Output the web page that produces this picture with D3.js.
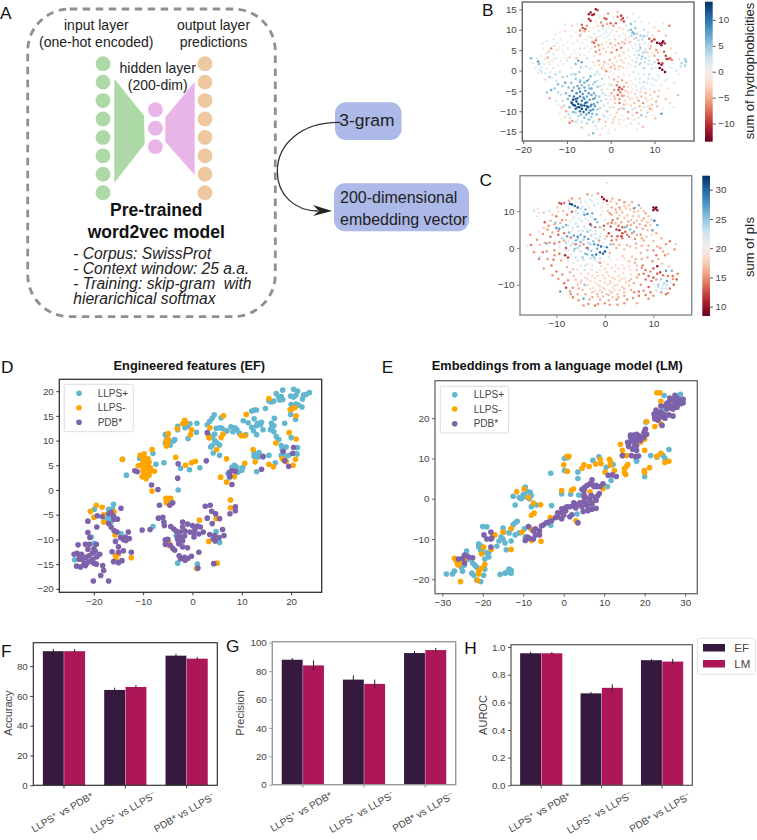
<!DOCTYPE html>
<html><head><meta charset="utf-8">
<script src="https://cdn.jsdelivr.net/npm/d3@7/dist/d3.min.js"></script>
<style>html,body{margin:0;padding:0;background:#fff}svg{display:block}text{font-family:"Liberation Sans",Arial,sans-serif}</style>
</head><body><svg id="fig" width="757" height="840"></svg>
<script>
// ---------- Panel A text ----------
const nodesIn=[1,2,3,4,5,6,7,8], nodesHidden=[1,2,3], nodesOut=[1,2,3,4,5,6,7,8];
const trainingNotes=["- Corpus: SwissProt","- Context window: 25 a.a.","- Training: skip-gram  with","hierarichical softmax"];
// ---------- Panel B: t-SNE x, y, sum of hydrophobicities (subsample) ----------
const hydroCore=[[-8.6,-7.2,13],[-8.9,-8,12],[-8.2,-8.6,13],[-7.8,-7.6,12],[-7.4,-8.2,11],[-8.4,-6.4,10],[-7.2,-9,12],[-6.6,-9.4,13],[-6,-8.6,12],[-5.6,-9.6,12],[-5.2,-9,11],[-6.2,-10.2,11],[-7,-10,10],[-5,-10.4,9],[-4.4,-8.4,9],[-4,-9.6,8],[-3.6,-8.8,7],[-6.6,-7.4,9],[-6,-7,8],[-5.4,-7.8,9],[-4.8,-7.2,8],[-7.8,-5.6,9],[-7,-5.2,9],[-6.4,-5.8,8],[-5.8,-5,7],[-5,-5.6,8],[-4.4,-4.4,7],[-3.8,-5.6,6],[-8.8,-5,8],[-9.6,-4.2,6],[-10.4,-3,7],[-9,-3,6],[-7.6,-3.8,7],[-6.6,-3.6,6],[-5.4,-2.6,7],[-4.6,-1.4,6],[-3.6,-2.8,5],[-3,-4,5],[-2.6,-6.4,5],[-3,-7.8,6],[-2.4,-9.2,4],[-3.2,-10.8,6],[-4.4,-11.4,5],[-6,-11.6,6],[-7.4,-11.2,4],[-8.6,-10.2,6],[-9.4,-9,7],[-9.8,-7,6],[-10.2,-5.6,6],[-9.4,-6.2,7],[-8,-9.4,11],[-7.6,-6.8,10],[-6.8,-8.4,10],[-5.8,-8,11],[-4.6,-9.8,9],[-7.2,-4.4,8],[-6,-4.2,7],[-5,-3.6,5],[-4,-7,7],[-3.4,-6.2,5],[-2,-4.8,3],[-2,-2,4],[-3.6,-1,3],[-6.2,-1.8,4],[-8,-2,5],[-11,-1.6,4],[-12,-3.4,6],[-10.6,-8.6,4],[-11.4,-6,3],[-8,-12.6,3],[-5.4,-13,4],[-3.4,-13.6,3],[-4,-15.4,6],[-5,-15.8,3],[-11.6,-10.6,2],[-9.2,-11.6,3],[-1.4,-11.2,3],[-0.6,-8,2],[-1.2,-6,3],[-0.4,-3.4,2]];
const hydroLeft=[[-18.2,3,6],[-17.8,1.8,1],[-16.6,2.2,8],[-16.4,1.6,6],[-15.8,0.8,2],[-15.2,1.6,1],[-15.8,-0.4,3],[-15,-0.6,2],[-14.6,0.4,1],[-14,1.4,-1],[-13.8,-0.4,2],[-13.2,0.6,2],[-13.4,2.2,-2],[-14.4,3.2,-5],[-14.2,4.6,-4],[-13.6,5.4,-6],[-14.8,4.2,-1],[-13,4,2],[-12.4,3,1],[-12,1.2,1],[-11.6,-0.4,3],[-12.6,-1,4],[-14,-1.6,5],[-15,-2.2,-3],[-16.6,-0.6,1],[-17.4,0.4,0],[-13.6,-4.8,7],[-14,-6.8,-5],[-12.4,-2.6,3],[-10.8,1.6,0],[-10,2.4,2],[-9.4,3.2,-3],[-10.6,4,1],[-11.8,5.6,-1],[-12.4,6.8,1],[-9,0.6,2],[-8,1.6,6],[-7.4,2.4,7],[-6.6,2,7],[-7.8,3,-4],[-8.4,-0.8,3],[-7.2,-0.4,5]];
const hydroTopRed=[[-4.6,14.2,-12],[-4.2,13.6,-12],[-5,13.8,-11],[-3.8,13.8,-11],[-3.4,15,-12],[-3,14.8,-9],[-5,12.6,-10],[-4.6,12.2,-11],[-0.6,14,-6],[1.6,14.4,-4],[1.6,13.2,-7],[2.4,13.4,-10],[2.8,12.8,-10],[-1,12.6,-9],[-1.4,12.8,-8],[0,11.6,-8],[-0.8,11.4,-5],[-2.2,11.8,-6],[-1.8,11,-7],[-3,11,-3],[0.6,11,-6],[1.2,11.6,-8],[3,12,-9],[2.4,12.4,-7],[-6.6,11.2,-8],[-6.4,10.4,-9],[-7,9.8,-7],[-6,9.6,-5],[-5.4,11,-6],[-5.8,10.2,-9],[-7,8.6,-5],[-10.4,9.6,-3],[-12.6,8.8,-1],[-14.6,7.2,1],[-10.4,11.2,2],[-3.4,12,-2],[3.8,13,2],[5,14,-2],[6.4,13,1],[7,12,-1],[8.8,11.6,-2],[10,10.6,-3],[11,9.6,-5],[13.4,11,-7],[12,11.6,1]];
const hydroRightRed=[[10.6,6.8,-13],[11.2,6.6,-13],[11.8,6.8,-13],[12,7.2,-12],[11.6,6.2,-12],[10,7.6,-10],[9.4,7.2,-9],[8.8,7.8,-8],[12.4,6.6,-10],[11,1.8,-13],[11.6,1.4,-12],[11.2,0.6,-13],[11.8,0.2,-13],[12.4,-0.4,-13],[12.8,2.8,-10],[13.2,2.8,-9],[13.6,3,-8],[14,2.6,-7],[12.6,3.6,-9],[12.2,4.6,-8],[11.8,1.8,-9],[10.8,2.6,-7],[10,3.6,-5],[10.4,5,-6],[9,5.4,-5],[8.4,4.4,-3],[15.6,2.8,2],[16.2,1.8,4],[17,2.8,5],[17.2,2.2,6],[17,1.2,5],[16,1,3],[15.6,-1,1],[14,0.6,1],[14.6,-3,2],[15.4,-6,4],[14.4,-9,1],[11.6,-10.6,8],[13,-4.4,-2],[12.4,-2.4,2],[12.6,-7,-4]];
const hydroCenter=[[-2,10.2,1],[-1.2,9.8,1],[-0.6,10.4,1],[-1.6,9,1],[-0.8,8.4,1],[0,9.4,1],[-3.8,9,2],[-5,8.4,2],[-3.4,7.4,-7],[-3.8,6.8,-8],[-4.2,7,-6],[-2.8,6.2,-6],[-3.6,5.8,-5],[-2,6.4,-3],[-1,7,-2],[0,6.6,-5],[1,7.6,-3],[2,8.4,-2],[3,9,1],[4,9.8,3],[4.6,10,6],[5,9.4,7],[5.6,10.4,5],[6,9,4],[6.8,8.6,5],[7.6,8.4,5],[8.4,8.6,3],[5.4,7.8,-3],[4.4,7,-4],[3.2,6.6,-5],[2.4,5.6,-7],[1.4,5,-7],[0.2,4.4,-6],[-1,4.6,-3],[-2.4,4,-4],[-3.8,3.6,-2],[-5,4.6,1],[-6,5.4,2],[-5.4,3,3],[-4,2,-2],[-2.8,2.4,-5],[-1.4,2,-4],[-0.2,2.6,-5],[1,3.2,-3],[2,3.6,-4],[3,4.4,-3],[4,5,-2],[5.2,5.4,1],[6,4.8,3],[6.8,5.6,5],[7.4,4.4,4],[8,3,4],[7,2.8,3],[6,3,2],[5,2.4,2],[4,1.6,-2],[3,2,-3],[2,1,-4],[1,0.4,-4],[0,0.8,-5],[-1,-0.2,-6],[-2,0.6,-4],[-3,-0.4,3],[5.6,1,3],[6.6,1.4,3],[7.6,0.6,4],[8.6,1.6,3],[9.4,0.4,3],[8.8,-1,3],[7.6,-1,2],[6.4,-0.8,1],[5.2,-0.4,2],[4.2,-1.2,-1],[3,-1,-2],[1.8,-1.6,-3],[0.8,-2.2,-5]];
const hydroLower=[[1.4,-3.6,-7],[2,-4.2,-10],[1.8,-4.8,-9],[2.6,-4.6,-8],[0.8,-4.8,-6],[0.2,-5.6,-5],[1.6,-6,-8],[2.6,-6.2,-6],[3.4,-5,-4],[4,-4,-2],[5,-3.4,1],[5.8,-3.8,2],[6.6,-3,2],[7.4,-4,1],[8.4,-3,2],[9.4,-3.4,1],[10.4,-2.4,2],[4.6,-5.4,-2],[5.6,-5.8,-3],[6.8,-5.2,-3],[8,-5.6,-4],[9,-6,-3],[10,-5.2,-5],[11,-5,-3],[3.2,-7.4,-3],[4.4,-7,-2],[5.4,-8,-4],[6.4,-7.4,-5],[7.4,-8,-6],[8.4,-7.4,-2],[9.4,-8.4,-4],[10.4,-7.6,-5],[2,-8,-7],[1,-7,-4],[0,-7.2,-2],[0.6,-9,-3],[1.8,-9.6,-4],[3,-9.4,5],[4,-10.2,-6],[5,-9.6,3],[6,-10.4,-6],[7,-9.8,-3],[8.4,-10.4,4],[9,-9.4,-6],[-0.8,-10,-5],[0,-11,-2],[1,-11.4,-3],[2.6,-11,1],[4,-11.8,-4],[5.4,-12,2],[7,-11,5],[-2.6,-12,-6],[-1.2,-12.6,-4],[0.4,-12.8,-3],[2,-13,-2],[3.6,-13.6,1],[6.4,-13,-2],[7.4,-13.8,-4],[-2,-14.2,1],[-0.4,-14.6,1],[1,-14.6,-1],[-6.6,-14,-4],[-7.4,-13,1],[-8.8,-12.4,-6],[-9.4,-12.8,-7],[-10.2,-10,-5],[-11.2,-9,-4],[-12.6,-7.4,2],[-14.6,-5.4,5],[-2.4,-15.8,-2]];
const hydroUpperMix=[[-2.6,9.6,1],[-1.8,10.4,1],[-1,9.4,1.5],[-0.2,8.8,1],[0.4,10,1],[-2.4,8.4,1.5],[-3,9.8,.5],[-1.4,8,1],[-0.4,7.6,.5],[0.8,8.6,-1],[1.4,9.6,-2],[2,10.4,-3],[2.8,10.2,-2],[3.4,8.4,-1],[4.2,8.2,2],[4.8,8.6,4],[5.4,9,6],[5.8,8,4],[6.4,7.4,3],[7.2,7.6,3],[7.8,6.8,2],[8.6,6.4,-1],[9.2,6,-4],[8,5.2,2],[6.6,6.4,3],[5.6,6.4,2],[4.8,6,1],[4.2,6.8,-2],[3.4,7.6,-3],[2.6,7,-4],[1.8,6.6,-5],[1,6.2,-4],[0.4,5.6,-3],[-0.6,5.8,-2],[-1.6,5.4,-3],[-2.6,5,-5],[-3.4,4.6,-6],[-4.4,5.4,-2],[-5.4,6,1],[-6.6,6.8,1],[-7.6,7.4,-1],[-8.6,6.6,1],[-9.8,7,1],[-10.8,6.2,1],[-11.4,7.6,-1],[-9,8.4,1],[-8,9.4,-1],[-6.6,9,1],[-5,9.6,-2],[-4,10.4,-1],[-3.2,8,-3],[-4.4,8,-2],[-5.6,7.6,1],[-7,5.4,2],[-8.4,5,1],[-9.8,5.4,1],[-11,4.6,-1],[-12.2,5,-2],[-13,6,-3],[-15.4,5.4,-1],[-16,3.6,1],[-16.8,3,2],[-17,1,1],[-16.2,0.2,2],[-15,2.8,1],[-14.2,2,-1],[-13,2.8,1],[-11.4,2.4,1],[-10.2,3,1],[-9,4,1],[-8,4.2,-1],[-7,3.8,2],[-6,3.8,1],[-6.8,0.8,4],[-5.6,1,3],[-4.6,0.4,2],[-3.6,1.2,-1],[-2.6,1.4,-3],[-1.6,1.2,-3],[-0.6,1.6,-3],[0.4,1.8,-2],[1.4,2.2,-2],[2.4,2.6,-3],[3.4,3,-2],[4.4,3.4,1],[5.4,3.8,2],[6.4,3.8,4],[7.2,3.4,5],[8.8,2.4,3],[9.4,1.4,2],[10.2,0.8,1],[10,2,3],[7.8,2,3],[6.8,1.8,4],[5.8,2,3],[4.8,1.2,1],[3.8,0.6,-1],[2.8,0.8,-2],[1.8,0.2,-2],[0.8,1.2,-4],[-0.2,-0.4,-2],[-1.4,0.2,-3],[10.8,4.4,-4],[9.6,4.4,-2],[8.8,3.4,1],[7.8,4.6,3],[6.6,5,3],[12,1.4,-3],[13.4,1,1],[14.4,1.8,1],[15,0,2],[13,-0.4,1],[12.6,8.6,-4],[13.8,5.4,-3],[14.8,4.2,-2],[3.6,11,2],[4.6,11.4,6],[5.6,12,3],[7.6,10,3],[8.6,9.4,2],[9.6,8.6,-3],[-8.8,11,-3],[-7.6,11.4,1],[-11.6,9.4,1],[-13,7.6,2],[-15.6,6.6,-2],[-1.4,13.6,1],[0.6,13,2],[-2.6,13,1]];
const hydroLowerMix=[[-1.4,-1.2,-1],[-0.4,-1.6,-2],[0.6,-0.8,-2],[1.6,-2.8,-4],[2.6,-2.4,-5],[3.6,-3,-4],[4.6,-2.6,-1],[5.6,-2,1],[6.6,-2,2],[7.6,-2.8,3],[8.6,-2,3],[9.6,-2,2],[10.8,-1.2,2],[11.6,-3.6,1],[3,-4,-6],[0.2,-3.6,-3],[-0.8,-4.6,1],[-1.6,-3.4,2],[-1.8,-5.6,3],[-1,-7,3],[-0.2,-6.2,-2],[0.8,-6.4,-4],[2.2,-5.4,-7],[3,-6.2,-5],[4,-5.4,-3],[5,-4.6,-1],[6,-4.8,1],[7,-4.4,2],[8,-4.4,2],[9,-4.6,1],[10,-3.8,1],[10.8,-6.4,-4],[9.4,-7,-3],[8,-6.8,-3],[7,-6.4,-4],[6,-6.6,-3],[5,-6.8,-2],[4,-6.4,-3],[3,-8.4,-4],[2,-7,-6],[1,-8,-4],[-0.2,-9,2],[1.4,-10.4,-3],[2.4,-9.2,-3],[3.6,-8.2,-2],[4.6,-8.6,-3],[5.6,-9.2,3],[6.6,-8.8,-4],[7.6,-9,2],[8.6,-8.8,-3],[9.6,-9.6,-2],[10.6,-8.8,-4],[-2.2,-7.4,4],[-1.6,-8.6,3],[-1,-10,3],[-1.8,-10.8,2],[-0.6,-11.8,1],[-2.8,-12.6,2],[-4,-12.6,4],[-5,-12,6],[-6.6,-12.6,3],[-7.6,-12.2,2],[-3,-14.4,1],[-1.2,-13.6,-2],[0.6,-12,-3],[2,-12,-2],[3,-12.2,1],[5,-11,-3],[6.4,-11.6,-2],[8,-11.4,-3],[9.8,-11,1],[4.6,-13,-2],[-9.6,-10.8,3],[-10.4,-11.4,-3],[-11,-7.4,3],[-12,-5.4,4],[-12.8,-4.4,5],[-13.4,-1.8,1],[-11,-3.8,5],[-10,-1.4,4],[-9,-1,4],[-8,-1,5],[-7,-2.4,5],[-6,-3,6],[-5,-2.2,5],[-4,-3.4,4],[-3,-2.6,3],[-2.4,-3.8,3],[-2.6,-1,2],[-6.2,-6.6,8],[-7,-6.4,9],[-8,-7,11],[-8.6,-8.4,12],[-7.6,-9,11],[-6.6,-8.6,11],[-5.4,-8.8,10],[-4.6,-8.8,8],[-3.8,-8.2,7],[-5.4,-6.4,7],[-4.4,-6,7],[-3.6,-6.8,6],[-3,-9.6,5],[-4.2,-10.6,6],[-5.6,-10.8,7],[-6.8,-10.8,6],[-8,-10.4,5],[-9,-7.8,8],[-8.4,-4.2,6],[-7,-2.8,6],[-4.8,-4.4,6],[-11.2,-12,1],[-12,-8.4,1],[13.6,-8,-2],[12,-9.4,1],[13,-2,-1],[11,-1.8,1],[10.2,-11.8,-4],[6,-14.4,1],[-0.6,-15.4,2]];
// ---------- Panel C: t-SNE x, y, sum of pIs (subsample) ----------
const piBlue=[[-7.2,12,31],[-6.8,11.8,32],[-6.2,11.4,30],[-5.6,11,30],[-4,10.4,26],[-3.6,9.2,28],[-4.2,9,27],[-2.6,9.4,26],[-10.2,6.8,25],[-10,5.4,28],[-9.4,5.2,27],[-8.6,5.6,25],[-8,6.2,26],[-7.4,4.2,26],[-7.8,3.2,27],[-6.4,3.4,27],[-5.6,3,28],[-5,3.6,26],[-4.2,3,27],[-3.4,2.4,27],[-6,2,26],[-5,1.6,26],[-3.6,4.4,25],[-2.8,6,26],[-2,7.8,27],[-1.6,7,25],[-1,5.6,25],[-2.2,1,27],[-1.4,0.8,28],[-0.8,0.4,30],[0,-1,31],[-1,-1.2,30],[-0.4,-1.6,30],[-1.8,-1.8,29],[-2.6,-2,27],[0.4,0.2,28],[1.2,1,25],[-3.4,-0.4,25],[-4,-1.6,26],[-4.6,-2.6,25],[-5.6,0,24],[-6.4,-0.8,24],[-7,0.6,23],[-8,1.4,24],[-8.8,2.6,24],[-12,1.2,26],[10.2,7.4,29],[10.8,6.2,27],[9.8,4.8,27],[6,4.4,26],[5.2,5,26],[4.2,5.6,26],[7,11.6,26],[6,10.8,27],[-9.2,-11.8,27],[-4.4,-13.8,27],[-4.2,-10,25],[12.8,-9,27],[12.6,-6.2,27],[13.8,-6.2,26],[11,-10,25],[11.6,-8.4,24],[12.2,-9.6,24]];
const piPaleBlue=[[-4.4,9.6,23],[-3.2,11,22],[-2.2,11.6,23],[-1.4,12,22],[-0.6,11,22],[-3,13,23],[-2.6,14.2,23],[-4,12.6,22],[-5,12.4,23],[-5.6,9.4,23],[-6.4,8.4,22],[-7.2,7.2,22],[-6,6.6,23],[-4.8,7.4,23],[-3.4,7.6,22],[-2.6,8.4,22],[-0.8,9,22],[0,7.6,22],[-4.2,5.8,23],[-5.4,4.6,22],[-3,4.8,23],[-2,3.8,23],[-1,3,23],[0,2.4,23],[-3,1,24],[-4,0,23],[-5,-1,23],[-3,-2.8,23],[-2,-3.2,23],[-1,-2.8,23],[0.8,-2.4,22],[-6,-2.6,23],[-7,-1.8,22],[-8.2,-0.6,22],[-9.4,0.4,22],[-10.4,2,22],[-3.6,-4.4,22],[-5,-4.8,22],[-6.6,-4,22],[-4.2,-6,23],[-2.6,-6,22],[-0.8,-5,22],[11,-10.6,23],[11.8,-11,23],[10.6,-11.6,23],[12.6,-11,23],[11.8,-12.4,22],[-13.8,10.6,22],[-14.6,10,23],[-11.4,10,23],[-14,8.6,22],[-16,0.6,22],[-13.4,-2.4,23],[0.4,17.6,22]];
const piPale=[[-4,-8,18],[-3,-9,18],[-2,-8.2,18],[-1,-9,18],[0,-8.2,18],[1,-9,18],[2,-8.4,18],[3,-9,18],[4,-8.2,18],[5,-9,17],[-3.4,-10,18],[-2.4,-10.8,18],[-1.4,-10,18],[-0.4,-10.8,18],[0.6,-10,18],[1.6,-10.8,18],[2.6,-10,18],[3.6,-10.6,17],[-2.6,-12,17],[-1.6,-12.6,17],[-0.6,-12,17],[0.4,-12.6,17],[1.4,-12,17],[2.6,-12.6,17],[4,-12,17],[5.4,-11.4,16],[-4.6,-11.4,17],[-5.6,-10,17],[-6,-8.6,17],[-5,-7,18],[-3.4,-7,18],[-1.6,-6.6,18],[0.4,-6.6,18],[2,-6.4,18],[3.8,-6.8,18],[5.4,-7.2,18],[6.6,-8,16],[6.6,-6,17],[-1,-14,16],[0.8,-14.2,16],[2.4,-14,15],[-3.2,-14,16],[4.6,-14,15],[-4.4,-15.6,15],[-2,-15.6,14],[1,-15.4,15],[-0.4,-13.2,17],[1.6,-13.4,17],[2.2,-4.8,18],[0.6,-4.4,18],[3.6,-4.6,18],[5,-5,18],[6.2,-4,16],[7.8,-4.8,14],[8.4,-6,14],[9,-7.6,13],[10,-5.6,13],[10.8,-5,10],[11.4,-6.6,12],[9.6,-9,14],[8.4,-8.6,14],[7.4,-10,15],[8,-11.6,15],[9.4,-12,14],[10,-13,15],[7,-13,14],[5.8,-13.6,15],[12.6,-12.6,14],[13.4,-11,14],[14.2,-10,13],[14.8,-8.6,13],[14,-7.6,14],[15,-7,14],[13.2,-5,17],[-5.6,-12.6,16],[-6.6,-10.8,15],[-7.6,-8.8,15],[-8.8,-7.2,15],[-10,-6.4,14],[-11,-4.8,14],[-12.6,-5.6,15],[-13.6,-3,14],[-14.6,-1.2,15],[-15.2,0.8,14],[-14,2.2,15],[-15.4,3.6,15],[-8,-10.8,12],[-6.6,-13.4,14]];
const piWarm=[[-9.4,12.2,13],[-9,12,12],[-8.4,12.2,14],[-0.6,13.8,11],[-0.2,13.2,9],[0.4,12.8,10],[-1.4,14.8,15],[1.6,13.4,16],[3,13,15],[-3.6,14.6,15],[-5.2,13.4,16],[-6.8,13.4,15],[10,11,9],[10.4,10.6,9],[10.6,11,8],[10,10.2,10],[10.8,10.2,10],[4.4,10.8,17],[5.2,10.4,17],[6,9.8,17],[6.8,10,17],[3.6,9.6,17],[4.6,8.8,17],[5.8,8.6,17],[7,8.6,17],[8,8,16],[8.4,9.4,16],[3,11,15],[1.4,11,16],[1,9.4,15],[1.6,7.6,14],[2.6,8,15],[3.4,7,16],[4.8,7.2,16],[6,6.8,16],[7.2,6.4,16],[8.4,6,15],[9.4,6.2,17],[1.2,5.8,13],[2.4,5,12],[3,4.8,11],[3.6,4,12],[4.2,4.4,13],[2.6,3.2,13],[3.6,2.6,14],[5,3,14],[6.2,2.4,15],[7.4,3.6,15],[8,2,16],[9,0.6,16],[10,-0.6,15],[11.4,0,15],[12.4,-2,15],[11,-3,16],[13.4,1.8,14],[1.4,2,14],[0.8,4,12],[-0.2,6,13],[-1.2,2,15],[-2,5.6,14],[-3,6.4,11],[-4.4,1,15],[-6,1,14],[-7,2.8,14],[-8,0,13],[-8.2,-2,11],[-7.6,-2.6,12],[-9.4,-1.6,14],[-10.4,-0.6,15],[-11.2,3,14],[-9.6,3.6,13],[-8.8,7.6,15],[-10,8.6,14],[-11.2,7.4,16],[-12.4,7,13],[-11.8,5,15],[-12.8,3.8,15],[-6.8,9.8,13],[-7.8,9,15],[-3.6,0,12],[-1,-4,15],[4.6,0.8,16],[2.4,0,16],[6.4,0,17],[1,-1.4,16],[3.6,-2.2,17],[5.6,-2.4,17],[7.4,-1.4,16],[-12,-1,15],[-10.6,-3.2,14]];
const piUpperMix=[[-6,10,23],[-5,10.6,23],[-4.6,11.2,22],[-3.6,11.8,21],[-2.6,12.6,22],[-1.6,13,21],[-0.4,12.2,20],[0.6,11.8,18],[-7.4,10.6,22],[-8.6,10,17],[-9.6,9.8,18],[-10.8,9,17],[-12.6,9.6,17],[-13.6,9.4,19],[-14.6,10.6,20],[-3,8.6,22],[-4,8,22],[-5.4,8,22],[-6.8,7.8,21],[-8,7.6,17],[-9.2,6.8,16],[-10.4,6.4,16],[-11.6,6,15],[-12.6,5.4,17],[-13.6,4.4,18],[-7.6,6,23],[-6.6,5.4,23],[-5.6,5.8,24],[-4.6,4.6,23],[-3.8,5.2,22],[-2.8,3.4,24],[-1.8,4.6,22],[-0.8,4.2,20],[-0.2,5,16],[0.6,6.6,15],[1.4,6.8,14],[2.2,6.6,16],[2.8,6,14],[3.6,5.6,13],[4.6,6,15],[5.4,6.2,16],[6.6,5.6,16],[7.8,5.2,16],[8.8,4.8,17],[9.6,3.6,18],[8.6,3,17],[7.6,2.6,16],[6.6,3.6,16],[5.6,4,15],[4.6,3.6,14],[3.4,3.2,12],[2.4,2.2,15],[1.4,3.2,14],[0.4,3.2,16],[-0.4,1.4,20],[-1.8,2.6,23],[-2.4,1.8,25],[-3.4,1.4,24],[-4.4,2.2,24],[-5.6,2.4,24],[-6.6,1.2,24],[-7.4,1.8,22],[-8.4,2,16],[-9.4,1.6,15],[-10.4,1.2,14],[-11.4,1.4,15],[-12.4,1.4,16],[-13.4,0.8,17],[-10.8,4.2,16],[-9.6,4.6,15],[-8.4,4,14],[-6.8,4.6,21],[1.4,9,16],[2.4,9.6,16],[3.2,10.4,17],[4,11.4,17],[5,11.6,17],[6.2,11,17],[7.4,10.8,17],[8,10,17],[9,8.6,17],[9.6,7.6,17],[8.8,7,17],[7.6,7.4,17],[6.6,7.4,17],[5.4,7.6,17],[4,8.2,17],[3,8.8,17],[2.2,10.4,16],[0.6,10,17],[-0.6,10,21],[0,13.8,19],[1.2,12.6,17],[2.4,12,16],[4,12.4,15],[5.6,12.4,16],[-7.4,12.8,16],[-6,12.6,20],[-9.8,11,17],[10.6,4,16],[11.6,2.6,16],[12.6,1,15],[10,1.8,17],[10.8,0.4,16],[12,-1,16],[13,-1.6,17],[14.4,-0.4,15],[14.6,1,17],[-0.2,0.4,22],[0.8,-0.4,20],[1.8,1,16],[3,0.8,16],[4,-0.4,17],[5.2,0.4,17],[6.4,1.2,16],[7.6,0.6,16],[8.8,-0.6,16],[-5.2,0.6,25],[-6.2,-0.2,25],[-7.4,-0.6,22],[-2.8,-0.8,25],[-1.6,-0.2,26]];
const piLowerMix=[[-5.6,-3.4,22],[-4.4,-3.2,23],[-3.6,-1.8,25],[-2.2,-2.6,25],[-1.4,-3.8,22],[-0.2,-3.8,21],[1.2,-3.4,20],[2.6,-3.2,19],[4,-2.8,18],[5,-3.6,17],[6.4,-3,16],[7.6,-3,16],[8.8,-2.6,16],[9.8,-3.6,15],[10.6,-2,14],[11.8,-4.2,17],[-7.6,-3.4,22],[-9,-3.4,16],[-10.4,-2,15],[-7.8,-5.2,16],[-6.6,-5.8,17],[-5.6,-6,18],[-4.8,-8.8,18],[-3.6,-8.6,18],[-2.6,-7.6,18],[-1.4,-7.6,18],[-0.4,-7.4,18],[0.8,-7.6,18],[1.6,-8,18],[2.8,-7.6,18],[3.4,-8.4,18],[4.4,-9.4,18],[5.4,-8.4,17],[6,-9.6,16],[-3,-11.2,18],[-2,-9.4,18],[-1,-10.4,18],[0,-9.4,18],[1.2,-9.6,18],[2,-10.2,18],[3,-11.4,18],[4,-11,17],[5,-10.2,17],[-4,-10.2,18],[-5,-9.4,17],[-6.4,-7.6,17],[-7.2,-6.6,16],[-2,-11.6,18],[-1,-11.4,18],[0,-11.2,18],[1,-11.6,18],[2,-11.4,18],[0.8,-12.8,17],[-1.4,-13.2,17],[-2.6,-13.4,16],[2.8,-13.4,16],[4,-13,16],[-4,-12.6,16],[-5.4,-11,16],[-7.2,-11.8,15],[-8.4,-9.6,14],[-9.6,-8.4,15],[-10.8,-7.4,15],[-11.8,-3,15],[-12.8,-1.2,14],[6,-12,15],[7,-11.8,14],[8.4,-12.8,14],[9,-10.6,13],[10,-10,21],[10.6,-8.6,15],[10,-8,13],[11.4,-9,22],[12,-10.2,22],[12.8,-10,23],[13.6,-9.4,22],[14,-8.4,15],[13,-7.6,14],[12,-7.4,14],[10.8,-7,13],[9.4,-6.4,15],[8,-7,14],[7,-7.2,15],[7.6,-5.4,15],[6.6,-4.8,17],[5.2,-6,18],[4,-5.6,18],[2.8,-5.6,18],[1.4,-5.4,18],[0,-5.6,18],[-1,-6,19],[-2.6,-4.8,21],[-4,-4.8,22],[-3,-5.8,20],[11.6,-12,15],[13,-12.2,15],[9,-13.8,15],[4,-15,15],[2.6,-15.4,15],[0,-15,15],[-1.4,-15.2,15],[-3.4,-15.2,15],[-5.4,-14.2,15],[-7,-12.6,15],[6.6,-15,16]];
// ---------- Panel D ----------
const efPos=[[23.7,19.7],[23,19.3],[22.5,19.2],[21.3,20],[20.5,20.4],[21,19.2],[19.9,19],[20.5,18.8],[18.3,20.2],[17,19.5],[17.5,18.8],[18,18.9],[18.3,18.3],[17.7,18.2],[16.5,18],[16,17.8],[15.5,18],[22.3,18.4],[20,17.3],[21,17.4],[21.5,17.2],[22.2,16.8],[14.8,16.5],[12.5,16.2],[13,16.2],[12,16],[19.9,15.3],[20.9,14.3],[16.6,14.5],[12.5,14.4],[13.2,13.5],[14,13.7],[10.3,14],[11.3,13.6],[12,12.7],[13,13],[13.8,13.2],[16,13.5],[16.5,13],[16,12.5],[15.8,12.2],[16.5,11.8],[18.7,13.5],[14.3,12.2],[12.4,12],[13,11.2],[10.8,11.2],[8.6,12.6],[9,12.2],[7.8,12.8],[7,12],[6,12.5],[6.8,11.9],[8.2,11.8],[9.5,11.5],[5.5,12.6],[4.5,11.3],[3.2,11.2],[17,10.8],[17.5,10.2],[20,10.6],[18,9],[19,8.7],[21.3,8.6],[18.2,8.2],[21,7.4],[21.2,7.3],[18,7],[18.8,6.8],[19.5,7],[15.5,7],[12.5,7.5],[13.5,7.6],[12.5,6.8],[13.3,6.7],[14.3,6.7],[16.8,5.5],[8.5,5],[8,4.6],[9,4.6],[10.2,4.6],[10,4],[9.2,3.6],[7.2,3.3],[13,3.7],[7.5,2.5],[4.4,15.2],[4,14.5],[3.5,13.9],[5.8,14.6],[4.8,12.5],[4,10.8],[4.5,10],[5,9.5],[4,9],[3.7,8.7],[5.5,9.1],[4.2,7.5],[5.5,7],[3,13.2],[-0.5,13.4],[-1,12.9],[-1.5,12.6],[0.9,13.5],[-3,12.9],[-3,12.2],[-5.5,11.2],[-5.2,10.5],[-4.8,10],[-3.8,9.9],[-3.6,10.2],[-0.9,10.4],[0.8,11.7],[-5.5,9.5],[-4.5,9.1],[-10.7,6.4],[-8,7.4],[-7.4,5.2],[-5.8,5.5],[-14.2,6.2],[-13.4,3],[-2.4,4.4],[-0.6,4.1],[1.5,4.5],[-2.9,0],[-4.7,-2.6],[-16.2,-3.8],[-16,-2.9],[-17,-3.9],[-19.9,-3.9],[-17.5,-5.9],[-16.8,-5.7],[-16.5,-6.4],[-14.5,-8.8],[-20.5,-9.5],[-20,-10.8],[-8,-7.4],[-3.3,-9.2],[-3,-14.8],[1,-15],[4.8,-8.4],[5.5,-10.6],[-23.9,-14.1],[1,-15.9]];
const efNeg=[[15.5,18.5],[20.8,16.7],[19.8,16.3],[20.2,16.4],[21,15],[10.9,15.3],[6.3,15],[3.5,12.6],[-1.3,13.6],[-1.6,14.1],[-2,13.4],[-0.2,12.2],[-3.1,12.4],[-4.9,11.4],[-0.4,11.2],[-5.4,9.9],[-4.9,10.3],[-5,9.4],[-5.3,8.9],[6.2,11.3],[5.8,10.6],[3.3,10.7],[3.4,10.5],[9.9,11],[10.6,11],[19.6,11.6],[21,10.3],[16.9,9.5],[12.3,8.2],[4.9,8.2],[6.9,6.3],[12.7,5.7],[10.6,5.4],[15.5,5.2],[16.4,4.7],[18.2,6.3],[19,5.8],[20.4,5],[20.9,6.2],[-8.2,8.2],[-9.8,7.3],[-10.6,7],[-9.8,6.5],[-9,6.3],[-10,6],[-9.5,5.5],[-10.2,5.2],[-8.8,5.6],[-11,4.9],[-9.9,4.9],[-9.2,4.9],[-8.5,4.5],[-10,4.3],[-9,4.2],[-10,3.8],[-8.6,3.8],[-7.7,3.8],[-9.7,3.2],[-10.2,2.7],[-9.3,3.1],[-8.8,3],[-9.4,2.3],[-14.2,6.2],[-3.4,6.6],[-1.4,5],[-0.2,5.5],[0.6,5.8],[5.7,2.6],[6.9,1.6],[8.5,2.7],[-8.2,-0.2],[-5.4,-1.7],[-4.9,-1.7],[-4.4,-1.7],[-5.3,-2.6],[-20.7,-4.3],[-19.5,-3.1],[-18.3,-3.5],[-20,-5.5],[-18,-5],[-15.9,-4.4],[-18,-6.5],[1.4,-6.1],[7.7,-2],[7.7,-3.6],[4.8,-5.8],[-15.7,-9.1],[-15,-13],[-15.6,-13.3],[-15.5,-14],[-12.4,-13.7],[3.3,-10.4],[-4.8,-10.6],[-4.8,-11.2],[0.8,-15.9],[5,-14.8]];
const efPdb=[[20.5,8.6],[18.4,7.8],[14.3,6.8],[20.3,7.4],[18.7,5.9],[14,4.2],[19.5,4.8],[8,3.9],[8.7,3.8],[7.5,3.6],[7.6,2.8],[8,1.1],[3,11.6],[-11.7,3.9],[-11.2,3.7],[-3,2.4],[-8.3,1],[-7,0.1],[-2.9,5.3],[2.8,5.9],[-4,-2.6],[-4.6,-3.1],[-6.7,-3.1],[2.6,-3.3],[3.6,-3.1],[3.9,-4.3],[8.7,-3.4],[8.7,-4.2],[7.6,-4.8],[4.7,-4.8],[5.5,-5.8],[3,-5.7],[4,-6.8],[-14.5,-3.7],[-16.5,-4.5],[-17,-4.8],[-16,-5.3],[-15.9,-5.9],[-15.2,-5.9],[-17,-6.8],[-19.3,-5.2],[-18.3,-5.4],[-21.2,-6.3],[-19.4,-7.5],[-16.5,-7.5],[-15.9,-8.2],[-15.3,-8.5],[-13,-8.5],[-21.2,-8.6],[-20.8,-9.6],[-14.6,-9.6],[-13.6,-9.5],[-14,-10],[-13.5,-10.2],[-12.8,-9.8],[-15.6,-10.4],[-21.7,-11],[-23.2,-11.1],[-20.9,-11],[-19.5,-11],[-24,-13],[-23.4,-12.8],[-23,-13.2],[-22.5,-13],[-23,-14],[-22.3,-14],[-21.7,-13.6],[-21,-13.3],[-20.3,-12.8],[-19.7,-12.4],[-19.4,-13.5],[-18.8,-13],[-20,-11.9],[-21.2,-12],[-20.2,-14],[-21,-14.5],[-20,-14.8],[-22,-15],[-21.5,-14.8],[-23.5,-15.4],[-22.7,-15.6],[-21.7,-15.3],[-19.5,-15],[-18.2,-15.3],[-18,-16.3],[-18.6,-17.3],[-20.1,-18.4],[-17,-18.4],[-16.3,-12.5],[-16,-14.5],[-15,-14.7],[-14.3,-14.3],[-15,-12.6],[-14,-12.3],[-15,-11.5],[-12.4,-12.6],[-10.2,-8.1],[-8.6,-8],[-6.9,-5.7],[-6,-5.5],[-5.8,-6.5],[-5.7,-7.2],[-4.4,-7.4],[-3.8,-7.9],[-2,-6.5],[-2,-7.5],[-1,-6.9],[0,-7.2],[0.5,-8],[1,-7.3],[1.6,-7.5],[-3.3,-8.3],[-2.5,-8.5],[-1.5,-8.3],[-0.5,-8.5],[0.3,-8.7],[0.3,-9.5],[1.3,-8.9],[2.2,-8.5],[-3,-9.4],[-2.3,-9.6],[-1.6,-9.3],[-3,-10],[-2,-10.3],[-2.8,-10.9],[-5.5,-10.1],[-5,-10],[-5.5,-11],[-4.5,-11.2],[-4,-11.8],[-3.6,-12.2],[-2,-11.5],[-1,-11.7],[3.5,-9],[4.5,-9.2],[6.1,-8],[5.4,-9.6],[6.4,-9.2],[4.2,-9.9],[4.6,-10.3],[-2.7,-13.3],[-2.4,-13.9],[-1.6,-13.6],[-1.5,-14.2],[-0.9,-13.8],[-0.2,-13.4],[1.3,-12.6],[1.1,-15.8],[4.3,-14.9]];
// ---------- Panel E ----------
const lmPos=[[-29,-18.7],[-27.5,-18.7],[-27,-18],[-22.7,-18.5],[-22.2,-19],[-21.5,-20.2],[-20.5,-20.6],[-19.8,-19],[-19.5,-17.5],[-15.7,-18.8],[-14.5,-18.5],[-14,-18.3],[-13.3,-18.2],[-13,-17.8],[-13.5,-17.5],[-13,-18.5],[-13.7,-18],[-26,-16],[-25.3,-17],[-24.5,-16.5],[-25,-18],[-23.5,-15],[-24,-13],[-24,-14],[-22.5,-16],[-22,-16.5],[-21.5,-17],[-21,-12],[-21,-11.2],[-20.5,-11.7],[-20,-12.5],[-20.5,-13],[-19,-13.5],[-18.5,-14.5],[-19.5,-15],[-18.5,-13.3],[-20,-6.9],[-19,-7],[-15,-7.3],[-14.8,-8.3],[-15.5,-9.5],[-15,-10],[-16,-10.5],[-14.5,-11],[-16.5,-11.8],[-14.2,-12.7],[-13,-10.5],[-13.5,-8.5],[-13,-7.5],[-12.5,-6.5],[-12,-6],[-11.5,-5.6],[-12,-9],[-9.7,-7.5],[-11,-8.5],[-9.5,-9.5],[-9.5,2.9],[-9,1.8],[-8.3,1.6],[-10,1],[-9.5,0.5],[-10.5,0],[-11,0.3],[-12.5,0.6],[-12,-1.6],[-8.5,0],[-8,0.8],[-8,-2],[-6.7,-1.6],[-3,-1.7],[-3.2,-6.6],[-3.2,6.3],[-0.5,1.2],[1.7,1.1],[3.7,0.9],[0.2,10],[1,10.2],[0.2,7],[3.5,6.6],[3.5,5],[3.3,-3.8],[6,-1.5],[7.2,9.5],[8.7,10.4],[10.5,7.8],[12.2,8.5],[10.8,3],[11.7,4.5],[18,9.5],[18,9.3],[21.5,10.7],[23,10.3],[24.5,10.8],[25,10],[26,12.2],[20,5.5],[24.8,25.6],[28.8,25.9],[24.3,22],[20.3,19]];
const lmNeg=[[-27,-14.8],[-26.5,-15.5],[-26.2,-16.3],[-25.5,-16],[-25,-15.5],[-24.5,-15.2],[-26,-16.5],[-25.5,-20.6],[-21.3,-20.3],[-21,-18.7],[-21,-18],[-20.3,-17.3],[-19.5,-16.3],[-20.3,-13.7],[-19.8,-12],[-17.9,-12.6],[-17.5,-9.2],[-17,-9],[-15,-8.3],[-13,-7.4],[-13,-12.6],[-10.3,-8.3],[-8.2,-7.5],[-8,-10.4],[-5.6,-10.6],[-11.6,1.7],[-9.8,2.4],[-8.7,0.3],[-5.7,-1.5],[-7.5,-1.1],[-8,-4.1],[-7.3,-3.6],[-3.3,-4.7],[-1.5,-4.5],[-0.5,2],[3,-5.5],[0.8,10.5],[1.3,10.5],[0,8.4],[0.9,6.8],[1.9,2.1],[2.4,2.4],[3.5,-6],[4.5,7.5],[5,8.4],[6.3,8],[6.5,1.7],[7,-1],[7.9,8.6],[9,9.8],[9.2,8.7],[9.7,2.5],[10.2,6.6],[11.3,9.8],[11.5,9.3],[11.5,8.3],[12.5,7],[14,13.5],[14.5,12],[14.5,10.7],[15.5,10.7],[15,7.5],[15,6.5],[15.3,6],[15.5,8],[15.8,8.5],[20,6.5],[19.9,7],[21.2,7.7],[18.5,14],[19,14],[20,14.8],[20,12],[20.5,19.1],[22.5,17.9],[23,10.5],[24,11.3],[25,9],[26,9.3],[23,26.3],[23.8,26.3],[24,24.2],[24,18.6]];
const lmPdb=[[-25,-14.8],[-26,-15],[-23.5,-14.5],[-22.5,-14.7],[-24.5,-14],[-24.5,-16],[-19.7,-9],[-19,-10],[-17.8,-9.8],[-18,-8.3],[-18,-10],[-18,-12],[-8.7,-6.9],[-9,-9.7],[-9,-9.5],[-9.5,-10.4],[-8.5,-9.8],[-7.5,-10],[-7.5,-8],[-7,-7.5],[-7,-9],[-6,-9],[-6,-8],[-5.5,-6.8],[-5,-6.5],[-4.3,-6],[-3.8,-5.8],[-3,-5.5],[-2,-4.7],[-1.5,-4.5],[-0.5,-5],[-1.5,-3.5],[-0.5,-3.5],[-0.5,-2.5],[0.3,-2.3],[0.5,-3],[0,-4.1],[0.8,-2],[1.5,-4.5],[2,-4],[1.5,-2],[2.3,-1.8],[2.5,-1],[3,-1.5],[3,-2.3],[3.5,-1.5],[3.5,-6],[4,-1],[4.5,-2],[5,-0.7],[5.5,-1.5],[6,-1.2],[6,-2.6],[7,-2.6],[8,-2.4],[7,-1.3],[6,-3],[4.8,-3.2],[5,0.5],[5,1],[5,2],[4.5,2.3],[5.2,2.8],[5.8,3.3],[6.5,3.7],[7,4.7],[7,3.5],[7.5,3],[8,3.3],[8.3,3],[9,3],[9.7,3.7],[8.8,1.3],[8.4,0.7],[7.8,0.3],[8,-0.4],[6.8,0.8],[6.5,-0.3],[5.5,0.3],[11,5.8],[12,5.9],[13,5.5],[14.5,10.7],[16.7,10.7],[17.7,10.5],[18.5,10.6],[15.8,14],[16,13],[16.2,14],[16.5,15.3],[16.5,15.8],[17,15],[17.5,14],[17.5,13],[17,12.3],[18,12],[18,13.2],[18.5,14.5],[18.5,15.7],[19,15.2],[19,14.5],[19.8,16.3],[20,16.8],[20.2,17.3],[20.5,16],[19.7,15.2],[17.3,15.8],[18,16],[18,15],[16.8,14.3],[16,13.5],[22.3,21],[22.5,20.5],[23,20],[22.5,19.8],[23.3,19.5],[23.3,20.8],[23.5,21.5],[24.2,20.3],[24.8,21],[25,20],[26,20.8],[27,20.5],[22.8,22],[24,23],[25,23],[25.5,22.3],[25.5,23.7],[26,24],[26.5,23],[27,23],[27.5,24],[28,23.5],[28,25],[27.5,25],[27,24.5],[28.5,24],[29,24.5],[29.5,24.7],[29.5,23.8],[28.8,23.6],[28,22.7],[27,22.3],[26.5,22.5],[26.2,25],[27.5,25.7],[24.3,18.2],[24,21.5]];
// ---------- Panels F, G, H ----------
const comparisons=["LLPS+ vs PDB*","LLPS+ vs LLPS-","PDB* vs LLPS-"];
const seriesNames=["EF","LM"];
const accuracyEF=[90,64,87], accuracyLM=[90,66,85], accuracyErrEF=[1.5,1.5,1.2], accuracyErrLM=[1.5,1.2,1];
const precisionEF=[88,74,92.7], precisionLM=[84,71,94.8], precisionErrEF=[1.2,3,1.5], precisionErrLM=[3.5,3,1.5];
const aurocEF=[.955,.665,.905], aurocLM=[.955,.705,.895], aurocErrEF=[.01,.01,.008], aurocErrLM=[.008,.025,.02];
const classNames=["LLPS+","LLPS-","PDB*"];

const INK="#444", TICK=9.8, svg=d3.select("#fig");
const FILL={teal:"#62b7cf",orange:"#ffa500",purple:"#7d62ab",dark:"#35193e",crimson:"#ad1759"};
svg.append("defs").append("filter").attr("id","soft").append("feGaussianBlur").attr("stdDeviation",.35);

function letter(s,x,y){svg.append("text").attr("x",x).attr("y",y).attr("font-size",17.3).attr("fill","#111").text(s);}
function txt(s,x,y,size,opt={}){const t=svg.append("text").attr("x",x).attr("y",y).attr("font-size",size)
  .attr("fill",opt.fill||"#222").attr("text-anchor",opt.anchor||"start");
  if(opt.bold)t.attr("font-weight","bold"); if(opt.italic)t.attr("font-style","italic");
  if(opt.rot!==undefined)t.attr("transform",`rotate(${opt.rot},${x},${y})`); t.text(s); return t;}
function axes(b,x,y,xt,yt,frame){
  const gx=svg.append("g").attr("transform",`translate(0,${b.y1})`).call(d3.axisBottom(x).tickValues(xt).tickSize(3).tickPadding(2.5));
  const gy=svg.append("g").attr("transform",`translate(${b.x0},0)`).call(d3.axisLeft(y).tickValues(yt).tickSize(3).tickPadding(2.5));
  [gx,gy].forEach(g=>{g.select(".domain").remove();g.selectAll("line").attr("stroke",frame);
    g.selectAll("text").attr("fill",INK).attr("font-size",TICK).attr("font-family",'"Liberation Sans"');});
}
function frameRect(b,c,w=1.2){svg.append("rect").attr("x",b.x0).attr("y",b.y0).attr("width",b.x1-b.x0).attr("height",b.y1-b.y0).attr("fill","none").attr("stroke",c).attr("stroke-width",w);}

// ---------- Panel A ----------
letter("A",0,19);
svg.append("rect").attr("x",27.7).attr("y",9).attr("width",247.6).attr("height",307.7).attr("rx",42).attr("fill","none")
  .attr("stroke","#8f8f8f").attr("stroke-width",2.8).attr("stroke-dasharray","7.5 5.5");
const nodeY=d3.scalePoint().domain(nodesIn).range([63.7,192.7]);
const hidY=d3.scalePoint().domain(nodesHidden).range([109.7,146.7]);
svg.append("polygon").attr("points","114.3,78.7 144,115.7 144.7,144 114.3,182.7").attr("fill","#acd9a5");
svg.append("polygon").attr("points","194.7,81.7 165.3,117.3 165.3,141.7 194.7,175").attr("fill","#e9b5e8");
svg.selectAll(".nin").data(nodesIn).join("circle").attr("cx",103).attr("cy",d=>nodeY(d)).attr("r",7.4).attr("fill","#acd9a5");
svg.selectAll(".nout").data(nodesOut).join("circle").attr("cx",205).attr("cy",d=>nodeY(d)).attr("r",7.4).attr("fill","#eec9a0");
svg.selectAll(".nh").data(nodesHidden).join("circle").attr("cx",155.4).attr("cy",d=>hidY(d)).attr("r",7.4).attr("fill","#e9b5e8");
[["input layer",96.3,30],["(one-hot encoded)",96.3,47],["output layer",213.5,30],["predictions",213.5,47],["hidden layer",157.7,73],["(200-dim)",157.7,90]]
  .forEach(d=>txt(d[0],d[1],d[2],14,{anchor:"middle"}));
txt("Pre-trained",156.3,216,17.5,{anchor:"middle",bold:true,fill:"#111"});
txt("word2vec model",156.3,238,17.5,{anchor:"middle",bold:true,fill:"#111"});
trainingNotes.forEach((s,i)=>txt(s,73.3,258.5+i*15.1,15.6,{italic:true}).style("white-space","pre"));
svg.append("rect").attr("x",335).attr("y",102.3).attr("width",66.5).attr("height",37.7).attr("rx",11).attr("fill","#adb9e8");
svg.append("rect").attr("x",334).attr("y",183.3).attr("width",135).attr("height",48).attr("rx",11).attr("fill","#adb9e8");
svg.append("path").attr("d","M340,122.4 C300,122 277,145 277.3,172 C277.5,195 295,211 318,211").attr("fill","none").attr("stroke","#333").attr("stroke-width",1.3);
svg.append("polygon").attr("points","332,211 313,205 319,211 313,216").attr("fill","#222");
txt("3-gram",339.3,126,17.4);
txt("200-dimensional",340,203.3,16);
txt("embedding vector",340,225.3,16);

// ---------- Panels B, C ----------
function tsnePanel(o){
  const b=o.box, x=d3.scaleLinear().domain(o.xd).range([b.x0,b.x1]), y=d3.scaleLinear().domain(o.yd).range([b.y1,b.y0]);
  const c=v=>d3.interpolateRdBu((v-o.vd[0])/(o.vd[1]-o.vd[0]));
  svg.append("g").attr("filter","url(#soft)").selectAll("circle").data(o.pts).join("circle")
    .attr("cx",d=>x(d[0])).attr("cy",d=>y(d[1])).attr("r",1.25).attr("fill",d=>c(d[2]));
  frameRect(b,o.frame,1.4); axes(b,x,y,o.xt,o.yt,o.frame);
  const cb=o.cb, id="g"+o.id, grad=svg.append("defs").append("linearGradient").attr("id",id).attr("x1",0).attr("x2",0).attr("y1",1).attr("y2",0);
  d3.range(0,1.0001,.1).forEach(t=>grad.append("stop").attr("offset",t).attr("stop-color",d3.interpolateRdBu(t)));
  svg.append("rect").attr("x",cb.x0).attr("y",cb.y0).attr("width",cb.x1-cb.x0).attr("height",cb.y1-cb.y0).attr("fill",`url(#${id})`);
  const vs=d3.scaleLinear().domain(o.vd).range([cb.y1,cb.y0]);
  const g=svg.append("g").attr("transform",`translate(${cb.x1},0)`).call(d3.axisRight(vs).tickValues(o.vt).tickSize(3).tickPadding(2.5));
  g.select(".domain").remove(); g.selectAll("line").attr("stroke","#555"); g.selectAll("text").attr("fill",INK).attr("font-size",TICK);
  txt(o.label,o.lx,o.ly,13,{anchor:"middle",rot:-90});
}
letter("B",482,15.6); letter("C",479.5,185.7);
tsnePanel({id:"b",pts:[...hydroLeft,...hydroCenter,...hydroUpperMix,...hydroLower,...hydroLowerMix,...hydroCore,...hydroTopRed,...hydroRightRed],
  box:{x0:522.3,x1:694,y0:2,y1:141},xd:[-20.2,19.05],yd:[-17.3,16.8],xt:[-20,-10,0,10],yt:[-15,-10,-5,0,5,10,15],frame:"#666",
  vd:[-13.5,13.5],vt:[-10,-5,0,5,10],cb:{x0:705,x1:712.7,y0:1.7,y1:141.7},label:"sum of hydrophobicities",lx:754,ly:71});
tsnePanel({id:"c",pts:[...piPale,...piLowerMix,...piUpperMix,...piPaleBlue,...piWarm,...piBlue],
  box:{x0:520,x1:691.7,y0:175.7,y1:315},xd:[-17.5,17.9],yd:[-18.2,19.6],xt:[-10,0,10],yt:[-10,0,10],frame:"#888",
  vd:[8.4,32.4],vt:[10,15,20,25,30],cb:{x0:702.3,x1:710,y0:175.7,y1:316},label:"sum of pIs",lx:754,ly:247});

// ---------- Panels D, E ----------
function scatterPanel(o){
  const b=o.box, x=d3.scaleLinear().domain(o.xd).range([b.x0,b.x1]), y=d3.scaleLinear().domain(o.yd).range([b.y1,b.y0]);
  const cols=[FILL.teal,FILL.orange,FILL.purple];
  o.groups.forEach((pts,i)=>svg.append("g").selectAll("circle").data(pts).join("circle")
    .attr("cx",d=>x(d[0])).attr("cy",d=>y(d[1])).attr("r",2.8).attr("fill",cols[i]));
  frameRect(b,o.frame,1.3); axes(b,x,y,o.xt,o.yt,o.frame);
  const l=o.leg;
  svg.append("rect").attr("x",l.x0).attr("y",l.y0).attr("width",l.x1-l.x0).attr("height",l.y1-l.y0).attr("rx",2).attr("fill","#fff").attr("stroke","#dcdcdc");
  classNames.forEach((n,i)=>{const yy=l.ys[i];
    svg.append("circle").attr("cx",l.mx).attr("cy",yy).attr("r",2.8).attr("fill",cols[i]);
    txt(n,l.tx,yy+3.6,10,{fill:INK});});
  txt(o.title,o.tx,o.ty,o.tf,{anchor:"middle",bold:true,fill:"#111"});
}
letter("D",1,373); letter("E",381.7,373);
scatterPanel({groups:[efPos,efNeg,efPdb],box:{x0:59.3,x1:321.7,y0:379.3,y1:592.3},xd:[-27,26.2],yd:[-20.7,22.4],
  xt:[-20,-10,0,10,20],yt:[-20,-15,-10,-5,0,5,10,15,20],frame:"#333",
  leg:{x0:64.3,x1:133.3,y0:384.3,y1:431.7,mx:79,tx:97.7,ys:[393.3,407.7,422.3]},title:"Engineered features (EF)",tx:189.3,ty:369.7,tf:12.8});
scatterPanel({groups:[lmPos,lmNeg,lmPdb],box:{x0:435,x1:697.3,y0:380.7,y1:593.7},xd:[-31.8,33],yd:[-23.6,29.3],
  xt:[-30,-20,-10,0,10,20,30],yt:[-20,-10,0,10,20],frame:"#666",
  leg:{x0:440.3,x1:508.7,y0:386.3,y1:433,mx:454.7,tx:473.7,ys:[394.7,409,423.7]},title:"Embeddings from a language model (LM)",tx:557.3,ty:369.7,tf:12.8});

// ---------- Panels F, G, H ----------
function barPanel(o){
  const b=o.box, x0=d3.scalePoint().domain(comparisons).range([b.x0,b.x1]).padding(.5);
  const x1=d3.scaleBand().domain(seriesNames).range([-21.3,21.3]);
  const y=d3.scaleLinear().domain(o.yd).range([b.y1,b.y0]);
  const rows=comparisons.flatMap((c,i)=>seriesNames.map((s,j)=>({c,s,v:o.vals[j][i],e:o.errs[j][i]})));
  svg.append("g").selectAll("rect").data(rows).join("rect")
    .attr("x",d=>x0(d.c)+x1(d.s)+.2).attr("width",x1.bandwidth()-.4).attr("y",d=>y(d.v)).attr("height",d=>b.y1-y(d.v))
    .attr("fill",d=>d.s==="EF"?FILL.dark:FILL.crimson);
  svg.append("g").selectAll("line").data(rows).join("line")
    .attr("x1",d=>x0(d.c)+x1(d.s)+x1.bandwidth()/2).attr("x2",d=>x0(d.c)+x1(d.s)+x1.bandwidth()/2)
    .attr("y1",d=>y(d.v+d.e)).attr("y2",d=>y(d.v-d.e)).attr("stroke","#222").attr("stroke-width",1);
  frameRect(b,o.frame,o.fw||1.2);
  const gy=svg.append("g").attr("transform",`translate(${b.x0},0)`).call(d3.axisLeft(y).tickValues(o.yt).tickFormat(o.fmt).tickSize(3).tickPadding(2.5));
  gy.select(".domain").remove(); gy.selectAll("line").attr("stroke",o.frame); gy.selectAll("text").attr("fill",INK).attr("font-size",TICK);
  comparisons.forEach(c=>{
    svg.append("line").attr("x1",x0(c)).attr("x2",x0(c)).attr("y1",b.y1).attr("y2",b.y1+3).attr("stroke",o.frame);
    const px=x0(c), py=b.y1+30;
    const t=svg.append("text").attr("x",px).attr("y",py).attr("text-anchor","middle").attr("font-size",10).attr("fill",INK)
      .attr("transform",`rotate(-30,${px},${py})`);
    c.split(/([+\-])/).forEach(part=>{
      if(part==="+"||part==="-"){t.append("tspan").attr("font-size",7).attr("dy",-3.5).text(part==="+"?"+":"\u2212");t.append("tspan").attr("dy",3.5).text("\u200a");}
      else t.append("tspan").text(part);
    });
  });
  txt(o.label,o.lx,o.ly,11,{anchor:"middle",rot:-90,fill:INK});
}
letter("F",1,656.7); letter("G",226,651.7); letter("H",464.3,654.3);
barPanel({box:{x0:33.3,x1:217.3,y0:642.7,y1:785.3},yd:[0,95.7],yt:[0,20,40,60,80],fmt:d3.format("d"),frame:"#333",
  vals:[accuracyEF,accuracyLM],errs:[accuracyErrEF,accuracyErrLM],label:"Accuracy",lx:12,ly:713});
barPanel({box:{x0:272.3,x1:455.7,y0:641.7,y1:784.7},yd:[0,100.7],yt:[0,20,40,60,80,100],fmt:d3.format("d"),frame:"#999",fw:1.4,
  vals:[precisionEF,precisionLM],errs:[precisionErrEF,precisionErrLM],label:"Precision",lx:244,ly:713});
barPanel({box:{x0:511,x1:692.3,y0:644.7,y1:785.3},yd:[0,1.017],yt:[0,.2,.4,.6,.8,1],fmt:d3.format(".1f"),frame:"#555",
  vals:[aurocEF,aurocLM],errs:[aurocErrEF,aurocErrLM],label:"AUROC",lx:487,ly:715});
// legend H
svg.append("rect").attr("x",697.3).attr("y",638.3).attr("width",58.4).attr("height",36).attr("rx",2).attr("fill","#fff").attr("stroke","#e2e2e2");
seriesNames.forEach((s,i)=>{const yy=644+i*16;
  svg.append("rect").attr("x",703).attr("y",yy).attr("width",22).attr("height",7.5).attr("fill",i?FILL.crimson:FILL.dark);
  txt(s,734.3,yy+8,11.5,{fill:INK});});
</script></body></html>
